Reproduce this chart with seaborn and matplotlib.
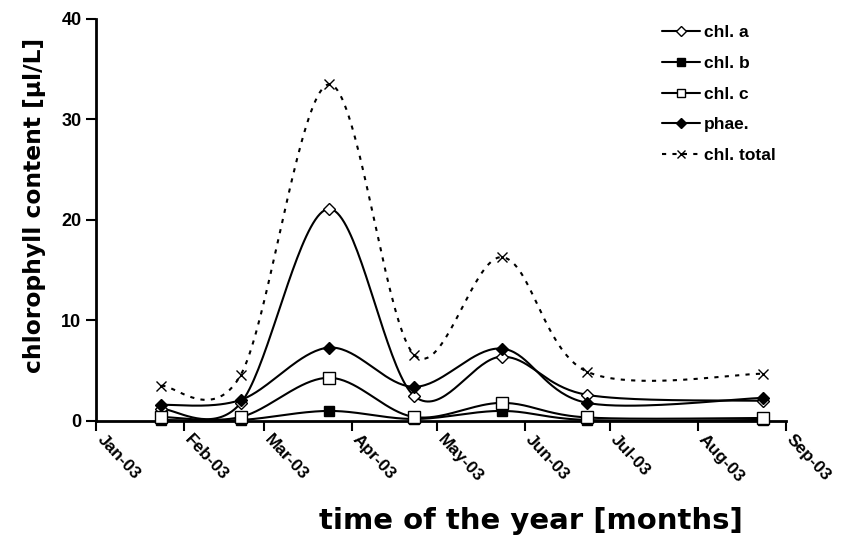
import numpy as np
import pandas as pd
import matplotlib
matplotlib.use("Agg")
import matplotlib.pyplot as plt
import matplotlib.dates as mdates
import matplotlib.transforms as mtransforms
from matplotlib.lines import Line2D
import seaborn as sns

# ---- data ----
dates = ["2003-01-24", "2003-02-21", "2003-03-24", "2003-04-23",
         "2003-05-24", "2003-06-23", "2003-08-24"]
chl_a = [1.2, 1.8, 21.1, 2.5, 6.4, 2.6, 2.0]
chl_b = [0.1, 0.1, 1.0, 0.2, 1.0, 0.1, 0.1]
chl_c = [0.4, 0.4, 4.3, 0.4, 1.8, 0.35, 0.3]
phae = [1.6, 2.1, 7.3, 3.4, 7.2, 1.8, 2.3]
chl_total = [3.5, 4.6, 33.5, 6.6, 16.3, 4.9, 4.7]
series_names = ["chl. a", "chl. b", "chl. c", "phae.", "chl. total"]
x_ticks = pd.date_range("2003-01-01", "2003-09-01", freq="MS")

sns.set_theme(style="white")
plt.rcParams["font.family"] = ["Liberation Sans", "DejaVu Sans"]
plt.rcParams["font.weight"] = "bold"
plt.rcParams["text.color"] = "black"
plt.rcParams["axes.labelcolor"] = "black"

fig = plt.figure(figsize=(8.52, 5.38), dpi=100)
ax = fig.add_axes([0.1127, 0.2175, 0.8098, 0.7472])

x0 = mdates.date2num(pd.Timestamp("2003-01-01"))
xn = mdates.date2num(pd.to_datetime(dates))
# approximate display scale used for the smoothing curve
SX, SY = 2.84, 10.05


def smooth(xs, ys, n=40):
    px = (np.asarray(xs) - x0) * SX
    py = np.asarray(ys, float) * SY
    P = np.column_stack([px, py])
    P = np.vstack([P[0], P, P[-1]])
    out = []
    t = np.linspace(0, 1, n)
    for i in range(1, len(P) - 2):
        p0, p1, p2, p3 = P[i - 1], P[i], P[i + 1], P[i + 2]
        c1 = p1 + (p2 - p0) / 6.0
        c2 = p2 - (p3 - p1) / 6.0
        seg = ((1 - t) ** 3)[:, None] * p1 + (3 * (1 - t) ** 2 * t)[:, None] * c1 \
            + (3 * (1 - t) * t ** 2)[:, None] * c2 + (t ** 3)[:, None] * p2
        out.append(seg if i == 1 else seg[1:])
    out = np.vstack(out)
    return out[:, 0] / SX + x0, out[:, 1] / SY


styles = {
    "chl. a": dict(vals=chl_a, marker="D", mfc="white", ms=6, ls="-"),
    "chl. b": dict(vals=chl_b, marker="s", mfc="black", ms=7, ls="-"),
    "chl. c": dict(vals=chl_c, marker="s", mfc="white", ms=8, ls="-"),
    "phae.": dict(vals=phae, marker="D", mfc="black", ms=6, ls="-"),
    "chl. total": dict(vals=chl_total, marker="x", mfc="black", ms=7, ls=(0, (2, 3))),
}

handles = []
for name in series_names:
    st = styles[name]
    sx, sy = smooth(xn, st["vals"])
    df = pd.DataFrame({"x": mdates.num2date(sx), "y": sy})
    sns.lineplot(data=df, x="x", y="y", sort=False, estimator=None, ax=ax,
                 color="black", lw=1.5, linestyle=st["ls"])
    ax.lines[-1].set_clip_on(False)
    ax.plot(pd.to_datetime(dates), st["vals"], ls="none", marker=st["marker"],
            mfc=st["mfc"], mec="black", ms=st["ms"], mew=1.0, clip_on=False, zorder=5)
    handles.append(Line2D([], [], color="black", lw=1.5, linestyle=st["ls"],
                          marker=st["marker"], mfc=st["mfc"], mec="black",
                          ms=st["ms"] * 0.8, mew=1.0))

ax.set_xlim(pd.Timestamp("2003-01-01"), pd.Timestamp("2003-09-01"))
ax.set_ylim(0, 40)
ax.set_yticks([0, 10, 20, 30, 40])
ax.set_xticks(x_ticks)
ax.xaxis.set_major_formatter(mdates.DateFormatter("%b-%y"))

ax.tick_params(axis="both", which="major", direction="out", length=7, width=1.5,
               labelsize=13, colors="black", bottom=True, left=True)
ax.tick_params(axis="x", pad=1, labelsize=12.5)
shift = mtransforms.ScaledTranslation(9 / 100, 0, fig.dpi_scale_trans)
for lab in ax.get_xticklabels():
    lab.set_rotation(-47)
    lab.set_ha("left")
    lab.set_va("top")
    lab.set_rotation_mode("anchor")
    lab.set_transform(lab.get_transform() + shift)

for s in ["top", "right"]:
    ax.spines[s].set_visible(False)
for s in ["left", "bottom"]:
    ax.spines[s].set_color("black")
    ax.spines[s].set_linewidth(2)

ax.set_xlabel("time of the year [months]", fontsize=21, fontweight="bold",
              family=["DejaVu Sans"], color="black")
ax.xaxis.set_label_coords(0.63, -0.215)
ax.xaxis.label.set_va("top")
ax.set_ylabel("chlorophyll content [µl/L]", fontsize=16.8, fontweight="bold",
              family=["DejaVu Sans"], color="black")
ax.yaxis.set_label_coords(-0.072, 0.535)

leg = ax.legend(handles, series_names, loc="upper left",
                bbox_to_anchor=(662 / 852, 1 - 25 / 538), bbox_transform=fig.transFigure,
                frameon=False, fontsize=12.5, handlelength=2.2, labelspacing=0.9,
                handletextpad=0.2, borderpad=0, borderaxespad=0)
for t in leg.get_texts():
    t.set_fontweight("bold")
    t.set_color("black")

fig.savefig("out.png", dpi=100)
